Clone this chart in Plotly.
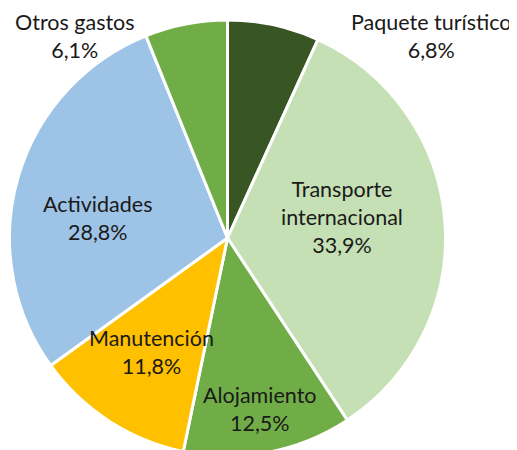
import plotly.graph_objects as go

categories = ["Paquete turístico", "Transporte internacional", "Alojamiento",
              "Manutención", "Actividades", "Otros gastos"]
values = [6.8, 33.9, 12.5, 11.8, 28.8, 6.1]
label_texts = ["Paquete turístico<br>6,8%", "Transporte<br>internacional<br>33,9%",
               "Alojamiento<br>12,5%", "Manutención<br>11,8%",
               "Actividades<br>28,8%", "Otros gastos<br>6,1%"]

colors = ["#375623", "#C5E0B4", "#70AD47", "#FFC000", "#9DC3E6", "#70AD47"]
W, H = 517, 450
# label centres in figure pixel coordinates (x from left, y from top)
label_px = [(423, 28), (334, 209), (252, 401), (143, 344), (89.5, 210), (67, 28)]

fig = go.Figure(go.Pie(
    labels=categories, values=values, sort=False, direction="clockwise",
    rotation=0, textinfo="none", hoverinfo="label+percent",
    marker=dict(colors=colors, line=dict(color="white", width=3)),
    domain=dict(x=[1.5/W, 437.5/W], y=[2/H, 438/H]),
    showlegend=False,
))

for txt, (px, py) in zip(label_texts, label_px):
    fig.add_annotation(x=px/W, y=1-py/H, xref="paper", yref="paper", text=txt,
                       showarrow=False, xanchor="center", yanchor="middle",
                       font=dict(family="Lato, sans-serif", size=21.5, color="#1a1a1a"))

fig.update_layout(width=W, height=H, margin=dict(l=0, r=0, t=0, b=0),
                  paper_bgcolor="white", plot_bgcolor="white")
fig.write_html("out.html")
